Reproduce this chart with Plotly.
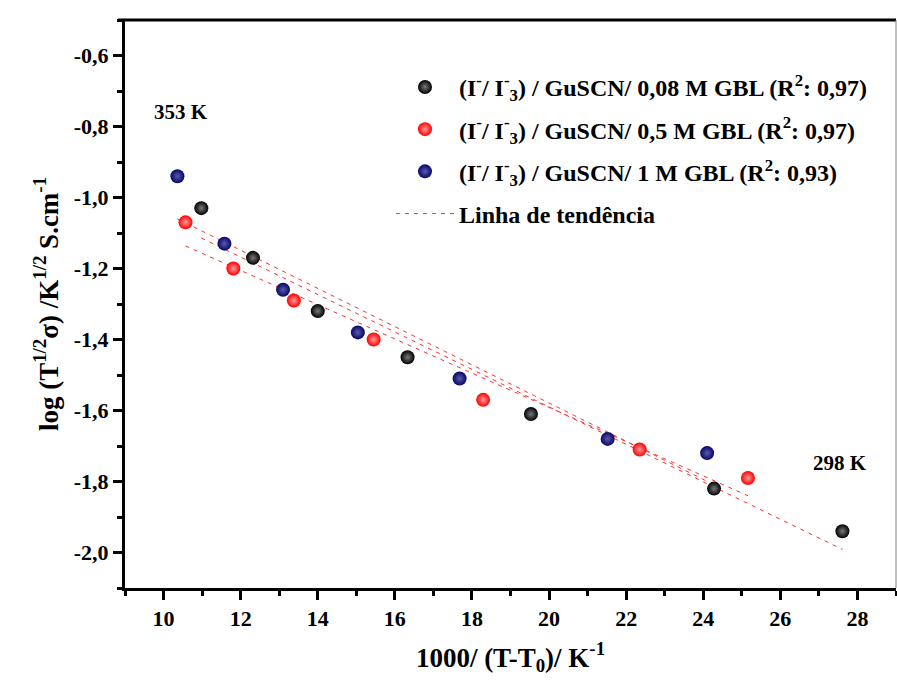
import numpy as np
import plotly.graph_objects as go

# ---- data ----
x_008 = [10.98, 12.32, 14.00, 16.33, 19.53, 24.28, 27.61]
y_008 = [-1.03, -1.17, -1.32, -1.45, -1.61, -1.82, -1.94]

x_05 = [10.57, 11.81, 13.38, 15.45, 18.29, 22.35, 25.16]
y_05 = [-1.07, -1.20, -1.29, -1.40, -1.57, -1.71, -1.79]

x_1 = [10.36, 11.58, 13.10, 15.04, 17.68, 21.52, 24.10]
y_1 = [-0.94, -1.13, -1.26, -1.38, -1.51, -1.68, -1.72]

names = [
    "(I<sup>-</sup>/ I<sup>-</sup><sub>3</sub>) / GuSCN/ 0,08 M GBL (R<sup>2</sup>: 0,97)",
    "(I<sup>-</sup>/ I<sup>-</sup><sub>3</sub>) / GuSCN/ 0,5 M GBL (R<sup>2</sup>: 0,97)",
    "(I<sup>-</sup>/ I<sup>-</sup><sub>3</sub>) / GuSCN/ 1 M GBL (R<sup>2</sup>: 0,93)",
]
trend_name = "Linha de tendência"

x_tickvals = [10, 12, 14, 16, 18, 20, 22, 24, 26, 28]
x_ticktext = ["10", "12", "14", "16", "18", "20", "22", "24", "26", "28"]
y_tickvals = [-0.6, -0.8, -1.0, -1.2, -1.4, -1.6, -1.8, -2.0]
y_ticktext = ["-0,6", "-0,8", "-1,0", "-1,2", "-1,4", "-1,6", "-1,8", "-2,0"]

label_hot = "353 K"
label_cold = "298 K"

# ---- style ----
FONT = "Liberation Serif, Times New Roman, serif"
series = [
    (x_008, y_008, "#000000", "#7a7a7a"),
    (x_05, y_05, "#ff0000", "#ff9a9a"),
    (x_1, y_1, "#06066a", "#5a5aa8"),
]

fig = go.Figure()

# trend lines (linear fits of each series)
for i, (xs, ys, _, _) in enumerate(series):
    a, b = np.polyfit(xs, ys, 1)
    xl = np.array([min(xs), max(xs)])
    fig.add_trace(go.Scatter(
        x=xl, y=a * xl + b, mode="lines",
        line=dict(color="#ff3030", width=1, dash="4px,5px"),
        name=trend_name, showlegend=(i == 0), legendgroup="trend",
        legendrank=1000,
    ))

for i, (xs, ys, col, hi) in enumerate(series):
    fig.add_trace(go.Scatter(
        x=xs, y=ys, mode="markers", name=names[i],
        legendgroup=f"g{i}", legendrank=i,
        marker=dict(size=14, color=col,
                    gradient=dict(type="radial", color=hi),
                    line=dict(width=0)),
    ))

tickfont = dict(family=FONT, size=22, color="black", weight="bold")
axis_common = dict(
    showgrid=False, zeroline=False, showline=True, linecolor="black",
    linewidth=3, ticks="outside", ticklen=9, tickwidth=2.5, tickcolor="black",
    mirror=False,
)

fig.update_xaxes(
    range=[9, 29], tickvals=x_tickvals, ticktext=x_ticktext, tickfont=tickfont,
    minor=dict(dtick=1, tick0=9, ticks="outside", ticklen=5, tickwidth=2.5,
               tickcolor="black"),
    title=dict(text="1000/ (T-T<sub>0</sub>)/ K<sup>-1</sup>",
               font=dict(family=FONT, size=27, color="black", weight="bold"),
               standoff=18),
    **axis_common,
)
fig.update_yaxes(
    range=[-2.1, -0.5], tickvals=y_tickvals, ticktext=y_ticktext, tickfont=tickfont,
    minor=dict(dtick=0.1, tick0=-2.1, ticks="outside", ticklen=5, tickwidth=2.5,
               tickcolor="black"),
    title=dict(text="log (T<sup>1/2</sup>σ) /K<sup>1/2</sup> S.cm<sup>-1</sup>",
               font=dict(family=FONT, size=27, color="black", weight="bold"),
               standoff=8),
    **axis_common,
)

# frame: thick top line, thin grey right line
fig.add_shape(type="line", xref="paper", yref="paper", x0=-0.009, x1=1, y0=1, y1=1,
              line=dict(color="black", width=3))
fig.add_shape(type="line", xref="paper", yref="paper", x0=1, x1=1, y0=0, y1=1,
              line=dict(color="#808080", width=1))

fig.add_annotation(x=10.44, y=-0.758, text=label_hot, showarrow=False,
                   font=dict(family=FONT, size=21, color="black", weight="bold"))
fig.add_annotation(x=27.54, y=-1.748, text=label_cold, showarrow=False,
                   font=dict(family=FONT, size=21, color="black", weight="bold"))

fig.update_layout(
    width=897, height=682,
    margin=dict(l=125, r=1, t=20, b=94),
    paper_bgcolor="white", plot_bgcolor="white",
    showlegend=True,
    legend=dict(
        x=0.345, y=0.921, xanchor="left", yanchor="top",
        bgcolor="rgba(0,0,0,0)", borderwidth=0,
        font=dict(family=FONT, size=24, color="black", weight="bold"),
        traceorder="grouped", tracegroupgap=8, itemwidth=58,
    ),
)

fig.write_html("out.html")
